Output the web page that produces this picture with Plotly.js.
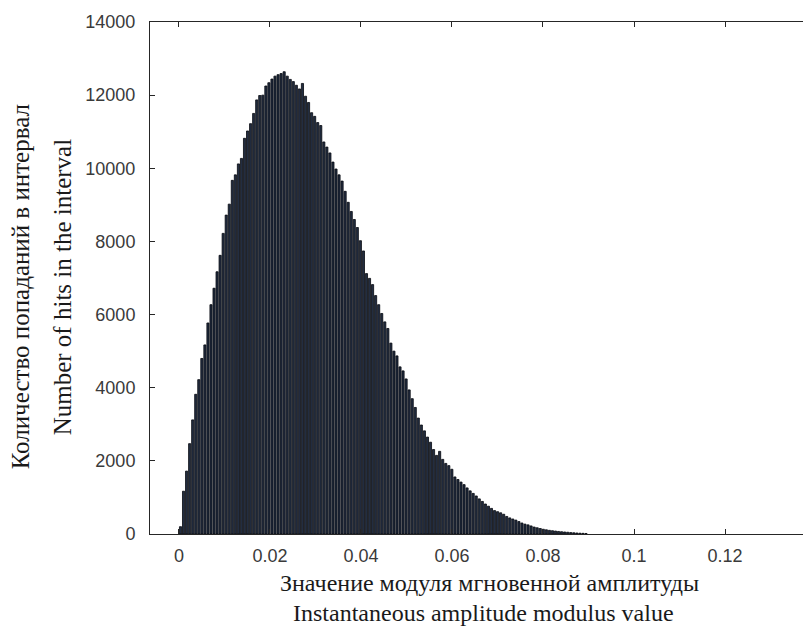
<!DOCTYPE html>
<html>
<head>
<meta charset="utf-8">
<script src="https://cdn.plot.ly/plotly-3.0.1.min.js"></script>
<style>
html,body{margin:0;padding:0;background:#fff;overflow:hidden;}
#chart{width:836px;height:631px;}
</style>
</head>
<body>
<div id="chart"></div>
<script>
// Histogram bins: first bin starts at 0, constant bin width
const binStart = 0;
const binWidth = 0.00067;
// Counts per bin
const counts = [
  200, 1170, 1720, 2470, 3120, 3820, 4220, 4800, 5170, 5770,
  6270, 6720, 7170, 7620, 8220, 8720, 9020, 9670, 9820, 10120,
  10270, 10820, 11020, 11220, 11500, 11870, 11990, 12000, 12250, 12340,
  12440, 12520, 12560, 12590, 12640, 12520, 12430, 12370, 12270, 12170,
  12320, 11970, 11800, 11520, 11420, 11250, 11170, 10720, 10580, 10420,
  10170, 9980, 9820, 9650, 9370, 9070, 8820, 8600, 8380, 8020,
  7740, 7120, 6990, 6820, 6520, 6270, 6030, 5800, 5620, 5220,
  5000, 4870, 4570, 4460, 4240, 3940, 3700, 3460, 3170, 2980,
  2820, 2650, 2510, 2310, 2150, 2260, 2040, 1930, 1870, 1770,
  1560, 1490, 1420, 1350, 1260, 1180, 1110, 1040, 960, 890,
  820, 760, 700, 640, 610, 580, 540, 480, 440, 410,
  380, 340, 300, 270, 250, 220, 190, 170, 150, 130,
  115, 100, 90, 80, 70, 62, 55, 48, 40, 34,
  28, 22, 18, 14
];
const xTickVals = [0, 0.02, 0.04, 0.06, 0.08, 0.1, 0.12];
const xTickText = ['0', '0.02', '0.04', '0.06', '0.08', '0.1', '0.12'];
const yTickVals = [0, 2000, 4000, 6000, 8000, 10000, 12000, 14000];
const yTickText = ['0', '2000', '4000', '6000', '8000', '10000', '12000', '14000'];
const yTitleRu = 'Количество попаданий в интервал';
const yTitleEn = 'Number of hits in the interval';
const xTitleRu = 'Значение модуля мгновенной амплитуды';
const xTitleEn = 'Instantaneous amplitude modulus value';

const centers = counts.map((c, i) => binStart + binWidth * (i + 0.5));

const axisColor = '#262626';
const tickFont = {family: 'Liberation Sans, Arial, sans-serif', size: 18, color: '#3a3a3a'};
const serif = 'Liberation Serif, Times New Roman, serif';

const trace = {
  type: 'bar',
  x: centers,
  y: counts,
  width: binWidth * 0.7,
  marker: {color: '#222d41', line: {color: '#05080e', width: 0.8}},
  hoverinfo: 'x+y'
};

const layout = {
  width: 836,
  height: 631,
  margin: {l: 150, r: 20, t: 22, b: 97},
  paper_bgcolor: '#ffffff',
  plot_bgcolor: '#ffffff',
  showlegend: false,
  xaxis: {
    range: [-0.00637, 0.14],
    tickvals: xTickVals,
    ticktext: xTickText,
    ticks: 'inside',
    ticklen: 5,
    tickcolor: axisColor,
    showline: true,
    linecolor: axisColor,
    linewidth: 1,
    mirror: 'ticks',
    showgrid: false,
    zeroline: false,
    tickfont: tickFont,
    ticklabelstandoff: 5
  },
  yaxis: {
    range: [0, 14000],
    tickvals: yTickVals,
    ticktext: yTickText,
    ticks: 'inside',
    ticklen: 5,
    tickcolor: axisColor,
    showline: true,
    linecolor: axisColor,
    linewidth: 1,
    mirror: 'ticks',
    showgrid: false,
    zeroline: false,
    tickfont: tickFont,
    ticklabelstandoff: 10
  },
  annotations: [
    {text: yTitleRu, xref: 'paper', yref: 'paper', x: -0.195, y: 0.482, textangle: -90,
     showarrow: false, xanchor: 'center', yanchor: 'middle',
     font: {family: serif, size: 25, color: '#1a1a1a'}},
    {text: yTitleEn, xref: 'paper', yref: 'paper', x: -0.132, y: 0.482, textangle: -90,
     showarrow: false, xanchor: 'center', yanchor: 'middle',
     font: {family: serif, size: 25, color: '#1a1a1a'}},
    {text: xTitleRu, xref: 'paper', yref: 'paper', x: 0.51, y: -0.096,
     showarrow: false, xanchor: 'center', yanchor: 'middle',
     font: {family: serif, size: 24, color: '#1a1a1a'}},
    {text: xTitleEn, xref: 'paper', yref: 'paper', x: 0.5, y: -0.154,
     showarrow: false, xanchor: 'center', yanchor: 'middle',
     font: {family: serif, size: 24, color: '#1a1a1a'}}
  ]
};

Plotly.newPlot('chart', [trace], layout, {displayModeBar: false, staticPlot: true});
</script>
</body>
</html>
